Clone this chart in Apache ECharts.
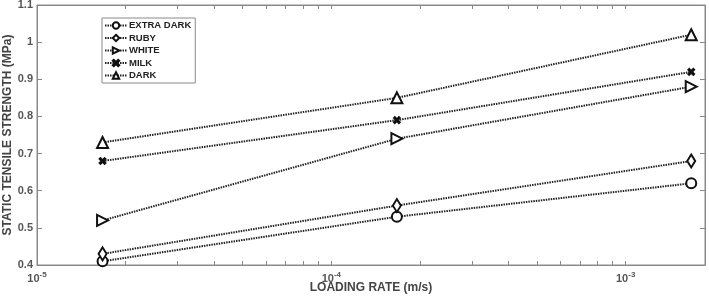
<!DOCTYPE html>
<html>
<head>
<meta charset="utf-8">
<script src="https://cdn.jsdelivr.net/npm/echarts@6/dist/echarts.min.js"></script>
<style>
  html, body { margin: 0; padding: 0; background: #fff; }
  #main { width: 709px; height: 301px; }
</style>
</head>
<body>
<div id="main"></div>
<script>
// loading rates (m/s)
const rates = [1.67e-5, 1.67e-4, 1.67e-3];

// static tensile strength (MPa)
const extraDark = [0.41, 0.53, 0.62];
const ruby = [0.43, 0.56, 0.68];
const white = [0.52, 0.74, 0.88];
const milk = [0.68, 0.79, 0.92];
const dark = [0.73, 0.85, 1.02];

const seriesNames = ["EXTRA DARK", "RUBY", "WHITE", "MILK", "DARK"];
const xLabels = [1e-5, 1e-4, 1e-3];
const xTicks = [
  1e-5, 2e-5, 3e-5, 4e-5, 5e-5, 6e-5, 7e-5, 8e-5, 9e-5,
  1e-4, 2e-4, 3e-4, 4e-4, 5e-4, 6e-4, 7e-4, 8e-4, 9e-4, 1e-3
];

const xMin = 1e-5, xMax = 1.86e-3;
const axisGray = "#8a8a8a";

function pairs(vals) {
  return rates.map(function (r, i) { return [r, vals[i]]; });
}

const xMark = "path://M0,1.6L1.6,0L5,3.4L8.4,0L10,1.6L6.6,5L10,8.4L8.4,10L5,6.6L1.6,10L0,8.4L3.4,5Z";

function makeSeries(name, vals, symbol, size, rotate) {
  return {
    name: name,
    type: "line",
    data: pairs(vals),
    symbol: symbol,
    symbolSize: size,
    symbolRotate: rotate || 0,
    showSymbol: true,
    lineStyle: { color: "#222", width: 2, type: [1.5, 1] },
    itemStyle: { color: "#111", borderColor: "#111", borderWidth: 1.8 }
  };
}

var myChart = echarts.init(document.getElementById("main"));

function supLabel(v) {
  var e = Math.round(Math.log10(v));
  return "{b|10}{s|" + e + "}";
}

var labelRich = {
  b: { fontSize: 11, fontWeight: "bold", color: "#555", fontFamily: "Liberation Sans" },
  s: { fontSize: 8, fontWeight: "bold", color: "#555", fontFamily: "Liberation Sans", verticalAlign: "top", padding: [0, 0, 8, 0] }
};

var tickStyle = { color: "#888", width: 1 };

var option = {
  animation: false,
  backgroundColor: "#fff",
  grid: {
    left: 37, right: 4, top: 5, bottom: 36,
    outerBoundsMode: "none", containLabel: false,
    show: true, borderColor: axisGray, borderWidth: 1
  },
  legend: {
    orient: "vertical",
    left: 102, top: 18,
    data: seriesNames,
    itemWidth: 22, itemHeight: 8, itemGap: 1.5,
    padding: [2, 4, 2, 2],
    borderColor: axisGray, borderWidth: 1,
    textStyle: { fontSize: 9.5, lineHeight: 11, fontWeight: "bold", color: "#222", fontFamily: "Liberation Sans", padding: [0, 0, 0, -3] }
  },
  xAxis: [
    {
      type: "log", logBase: 10, min: xMin, max: xMax,
      name: "LOADING RATE (m/s)", nameLocation: "middle", nameGap: 17, nameMoveOverlap: false,
      nameTextStyle: { fontSize: 12, fontWeight: "bold", color: "#444", fontFamily: "Liberation Sans" },
      axisLine: { show: true, onZero: false, lineStyle: { color: axisGray } },
      axisTick: { show: true, inside: true, length: 4, customValues: xTicks, lineStyle: tickStyle },
      axisLabel: { formatter: supLabel, rich: labelRich, margin: 6, customValues: xLabels },
      splitLine: { show: false }
    },
    {
      type: "log", logBase: 10, min: xMin, max: xMax, position: "top",
      axisLine: { show: true, onZero: false, lineStyle: { color: axisGray } },
      axisTick: { show: true, inside: true, length: 4, customValues: xTicks, lineStyle: tickStyle },
      axisLabel: { show: false },
      splitLine: { show: false }
    }
  ],
  yAxis: [
    {
      type: "value", min: 0.4, max: 1.1, interval: 0.1,
      name: "STATIC TENSILE STRENGTH (MPa)", nameLocation: "middle", nameGap: 23, nameMoveOverlap: false,
      nameTextStyle: { fontSize: 12, fontWeight: "bold", color: "#444", fontFamily: "Liberation Sans" },
      axisLine: { show: true, onZero: false, lineStyle: { color: axisGray } },
      axisTick: { show: true, inside: true, length: 5, lineStyle: tickStyle },
      axisLabel: {
        margin: 4, fontSize: 11, fontWeight: "bold", color: "#555", fontFamily: "Liberation Sans",
        formatter: function (v) { return String(Math.round(v * 10) / 10); }
      },
      splitLine: { show: false }
    },
    {
      type: "value", min: 0.4, max: 1.1, interval: 0.1, position: "right",
      axisLine: { show: true, onZero: false, lineStyle: { color: axisGray } },
      axisTick: { show: true, inside: true, length: 5, lineStyle: tickStyle },
      axisLabel: { show: false },
      splitLine: { show: false }
    }
  ],
  series: [
    makeSeries("EXTRA DARK", extraDark, "emptyCircle", 10),
    makeSeries("RUBY", ruby, "emptyDiamond", [8, 13]),
    makeSeries("WHITE", white, "emptyTriangle", 11, -90),
    makeSeries("MILK", milk, xMark, 6),
    makeSeries("DARK", dark, "emptyTriangle", 11)
  ]
};

myChart.setOption(option);
</script>
</body>
</html>
